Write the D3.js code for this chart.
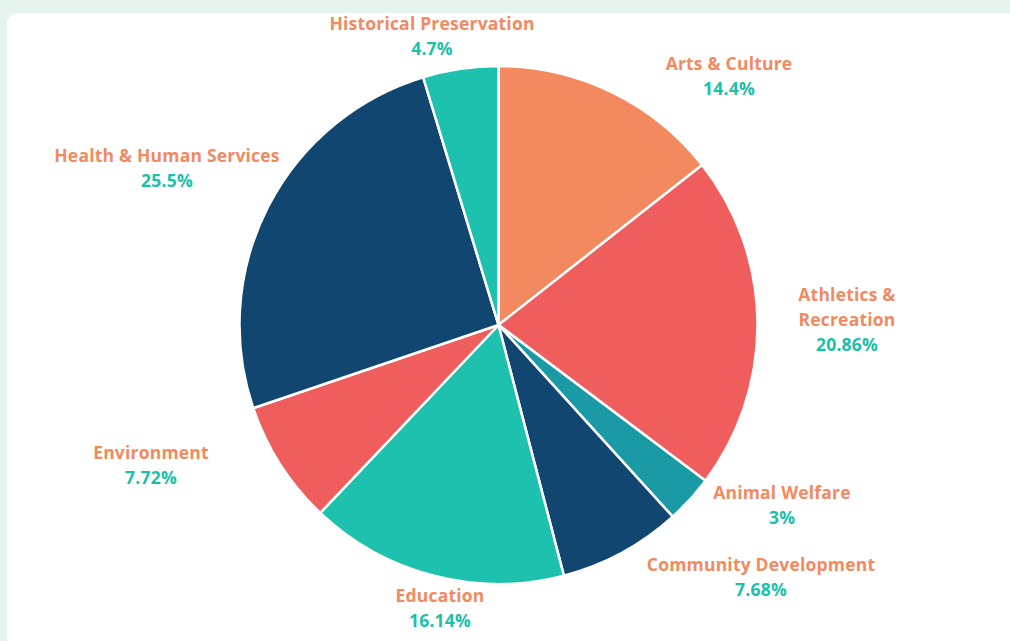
<!DOCTYPE html>
<html>
<head>
<meta charset="utf-8">
<script src="https://cdn.jsdelivr.net/npm/d3@7"></script>
<style>
  html, body { margin: 0; padding: 0; background: #e4f4ec; }
  svg { display: block; }
  text { font-family: "Open Sans", Lato, sans-serif; font-weight: 700; }
</style>
</head>
<body>
<div class="canvas"></div>
<script>
// data, clockwise from 12 o'clock
const categories = ["Arts & Culture", "Athletics & Recreation", "Animal Welfare", "Community Development",
  "Education", "Environment", "Health & Human Services", "Historical Preservation"];
const shares = [14.4, 20.86, 3, 7.68, 16.14, 7.72, 25.5, 4.7];
const shareLabels = ["14.4%", "20.86%", "3%", "7.68%", "16.14%", "7.72%", "25.5%", "4.7%"];

const sliceColors = ["#f2895f", "#f05d5d", "#1a9aa5", "#10466f", "#1ec0ae", "#f05d5d", "#10466f", "#1ec0ae"];
// label anchors (centre of text block), hand placed like the original
const labelAnchors = [[729, 64], [847, 295], [782, 493], [761, 565], [440, 596], [151, 453], [167, 156], [432, 24]];
const labelLines = [["Arts & Culture"], ["Athletics &", "Recreation"], ["Animal Welfare"], ["Community Development"],
  ["Education"], ["Environment"], ["Health & Human Services"], ["Historical Preservation"]];

const w = 1010;
const h = 641;
const cx = 498.5;
const cy = 325;
const r = 259;

const svg = d3.select(".canvas").append("svg").attr("width", w).attr("height", h);

svg.append("rect").attr("width", w).attr("height", h).attr("fill", "#e4f4ec");
svg.append("rect")
  .attr("x", 7).attr("y", 13).attr("width", w + 20).attr("height", h + 20)
  .attr("rx", 10).attr("fill", "#ffffff");

const pie = d3.pie().sort(null).value(d => d);
const arc = d3.arc().innerRadius(0).outerRadius(r);

const g = svg.append("g").attr("transform", `translate(${cx},${cy})`);
g.selectAll("path")
  .data(pie(shares))
  .join("path")
  .attr("d", arc)
  .attr("fill", (d, i) => sliceColors[i])
  .attr("stroke", "#ffffff")
  .attr("stroke-width", 2.5)
  .attr("stroke-linejoin", "round");

const labels = svg.selectAll("g.label")
  .data(categories)
  .join("g")
  .attr("class", "label")
  .attr("transform", (d, i) => `translate(${labelAnchors[i][0]},${labelAnchors[i][1]})`);

labels.each(function (d, i) {
  const lg = d3.select(this);
  const lines = labelLines[i];
  lines.forEach((ln, j) => {
    lg.append("text")
      .attr("y", j * 25)
      .attr("dy", "0.35em")
      .attr("text-anchor", "middle")
      .attr("fill", "#f2895f")
      .attr("font-size", 17.5)
      .attr("letter-spacing", 0.2)
      .text(ln);
  });
  lg.append("text")
    .attr("y", lines.length * 25)
    .attr("dy", "0.35em")
    .attr("text-anchor", "middle")
    .attr("fill", "#1bbfab")
    .attr("font-size", 17.5)
    .attr("letter-spacing", 0.2)
    .text(shareLabels[i]);
});
</script>
</body>
</html>
